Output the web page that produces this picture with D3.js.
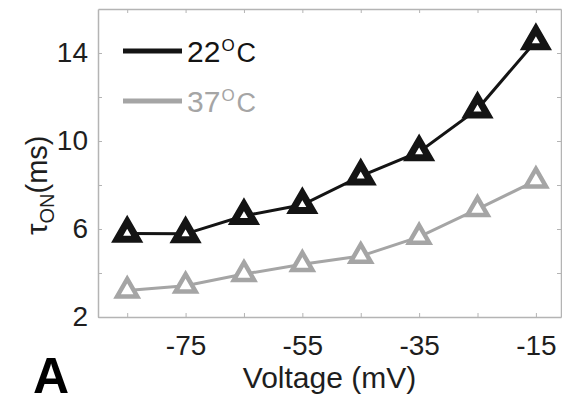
<!DOCTYPE html>
<html>
<head>
<meta charset="utf-8">
<script src="https://cdn.jsdelivr.net/npm/d3@7"></script>
<style>
  body { margin: 0; background: #fff; }
  svg { font-family: "Liberation Sans", Arial, sans-serif; }
</style>
</head>
<body>
<div id="chart"></div>
<script>
// data
var voltage = [-85, -75, -65, -55, -45, -35, -25, -15];
var tau22 = [5.8, 5.78, 6.6, 7.1, 8.4, 9.5, 11.45, 14.55];
var tau37 = [3.2, 3.42, 3.95, 4.4, 4.77, 5.64, 6.9, 8.2];
var xTicks = [-85, -75, -65, -55, -45, -35, -25, -15];
var xLabels = [-75, -55, -35, -15];
var yTicks = [2, 4, 6, 8, 10, 12, 14];
var yLabels = [2, 6, 10, 14];

var svgWidth = 562;
var svgHeight = 404;

var margin = { top: 9, right: 1, bottom: 87, left: 98 };
var width = svgWidth - margin.left - margin.right;
var height = svgHeight - margin.top - margin.bottom;

var svg = d3.select("#chart")
    .append("svg")
    .attr("width", svgWidth)
    .attr("height", svgHeight);

var chartGroup = svg.append("g")
    .attr("transform", `translate(${margin.left}, ${margin.top})`);

var x = d3.scaleLinear().domain([-90, -10.7]).range([0, width]);
var y = d3.scaleLinear().domain([2, 16]).range([height, 0]);

var axisColor = "#b4b4b4";
var textColor = "#1e1e1e";

// box with inward ticks on all four sides
function styleAxis(g) {
    g.select(".domain").attr("stroke", axisColor).attr("stroke-width", 1.5);
    g.selectAll(".tick line").attr("stroke", axisColor).attr("stroke-width", 1);
}

var xAxis = chartGroup.append("g")
    .attr("transform", `translate(0, ${height})`)
    .call(d3.axisBottom(x).tickValues(xTicks).tickSize(-4).tickSizeOuter(0)
        .tickFormat(d => xLabels.includes(d) ? d : ""));
styleAxis(xAxis);
xAxis.selectAll("text")
    .attr("y", 18)
    .attr("dy", "0.71em")
    .attr("fill", textColor)
    .style("font-size", "28px")
    .style("font-family", "Liberation Sans, Arial, sans-serif");

var yAxis = chartGroup.append("g")
    .call(d3.axisLeft(y).tickValues(yTicks).tickSize(-4).tickSizeOuter(0)
        .tickFormat(d => yLabels.includes(d) ? d : ""));
styleAxis(yAxis);
yAxis.selectAll("text")
    .attr("x", -10)
    .attr("fill", textColor)
    .style("font-size", "28px")
    .style("font-family", "Liberation Sans, Arial, sans-serif");

var topAxis = chartGroup.append("g")
    .call(d3.axisTop(x).tickValues(xTicks).tickSize(-4).tickSizeOuter(0).tickFormat(""));
styleAxis(topAxis);

var rightAxis = chartGroup.append("g")
    .attr("transform", `translate(${width}, 0)`)
    .call(d3.axisRight(y).tickValues(yTicks).tickSize(-4).tickSizeOuter(0).tickFormat(""));
styleAxis(rightAxis);

// series
var series = [
    { name: "37", values: tau37, color: "#a5a5a5", width: 3, stroke: 4.5 },
    { name: "22", values: tau22, color: "#141414", width: 3, stroke: 7 }
];

var line = d3.line()
    .x((d, i) => x(voltage[i]))
    .y(d => y(d));

// triangle with its centroid at the data point
var tri = d3.symbol().type(d3.symbolTriangle).size(175);

series.forEach(function(s) {
    chartGroup.append("path")
        .datum(s.values)
        .attr("d", line)
        .attr("fill", "none")
        .attr("stroke", s.color)
        .attr("stroke-width", s.width);

    chartGroup.selectAll(".m" + s.name)
        .data(s.values)
        .enter().append("path")
        .attr("class", "m" + s.name)
        .attr("d", tri)
        .attr("transform", (d, i) => `translate(${x(voltage[i])}, ${y(d)})`)
        .attr("fill", "#fff")
        .attr("stroke", s.color)
        .attr("stroke-width", s.stroke)
        .attr("stroke-linejoin", "miter");
});

// legend
var legend = [
    { label: "22", color: "#141414", y: 51 },
    { label: "37", color: "#a5a5a5", y: 101 }
];

legend.forEach(function(l) {
    svg.append("line")
        .attr("x1", 123).attr("x2", 182)
        .attr("y1", l.y).attr("y2", l.y)
        .attr("stroke", l.color)
        .attr("stroke-width", 5);

    var t = svg.append("text")
        .attr("x", 187)
        .attr("y", l.y + 11)
        .attr("fill", l.color)
        .style("font-size", "30px");
    t.append("tspan").text(l.label);
    t.append("tspan").attr("dy", -11).attr("dx", 1).style("font-size", "17px").text("O");
    t.append("tspan").attr("dy", 11).attr("dx", 2).style("font-size", "27px").text("C");
});

// y axis label
var yLabel = svg.append("text")
    .attr("transform", "translate(47, 235) rotate(-90)")
    .attr("fill", textColor)
    .style("font-size", "29px");
yLabel.append("tspan").text("τ");
yLabel.append("tspan").attr("dy", 7).style("font-size", "20px").text("ON");
yLabel.append("tspan").attr("dy", -7).text("(ms)");

// x axis label
svg.append("text")
    .attr("x", margin.left + width / 2)
    .attr("y", 388)
    .attr("text-anchor", "middle")
    .attr("fill", textColor)
    .style("font-size", "30px")
    .text("Voltage (mV)");

// panel letter
svg.append("text")
    .attr("x", 33)
    .attr("y", 393)
    .attr("fill", "#000")
    .style("font-size", "50px")
    .style("font-weight", "bold")
    .text("A");
</script>
</body>
</html>
